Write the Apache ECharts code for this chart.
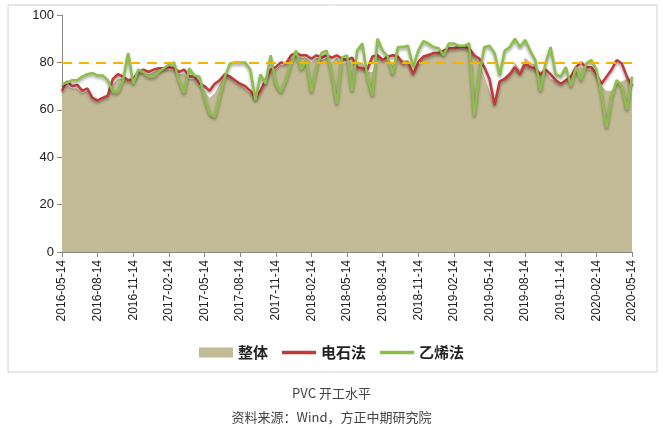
<!DOCTYPE html><html><head><meta charset="utf-8"><script src="https://cdn.jsdelivr.net/npm/echarts@6/dist/echarts.min.js"></script></head><body style="margin:0"><div id="c" style="width:663px;height:431px"></div><script>
const tickLabels=['2016-05-14','2016-08-14','2016-11-14','2017-02-14','2017-05-14','2017-08-14','2017-11-14','2018-02-14','2018-05-14','2018-08-14','2018-11-14','2019-02-14','2019-05-14','2019-08-14','2019-11-14','2020-02-14','2020-05-14'];
const red=[68,72,70,70.5,68,69,65,64,65,66,73,75,74,72.5,73,76,77,76,77,77.5,77.5,78,77.5,76,77,74,74,71,70,68,71,72.5,75,74,72.5,71,70,68,65,68,72.5,77,78,80,79.5,83,84,83,83,81.5,83,82,83,82,83,81.5,81,82,
78,77.5,77,82.5,83,81,82.5,83,82.5,79.5,80,75,80,82.5,83,84,84,85,86,86,86.5,86.5,86,83,81.5,78,73,62,72,73,75,78,75,79.5,78,77.5,75,77,75,72.5,71,72.5,74,78,80,78,78,75,71,74,77,81,79.5,74,70,72.5];
const green=[71,71.5,72.5,72.5,74,75,75.5,74.5,74.5,72.5,67.5,67.5,72.5,84,71,77,76,74,74,76,77.5,79,80,72.5,67,77.5,74.5,74,65.5,58.5,57,65.5,74,79.5,80,80,80,77,64,75,71,83,71,67.5,72.5,79.5,85,77,81,67.5,78,84,85,75.5,62.5,82,83,68,
85,88,74,66,90,85,82.5,75,86.5,86.5,87,78,85,89,88,86.5,86,83,88,88,87,87,88,57.5,75,86.5,87,84,74.5,85,86.5,90,86.5,89.5,85,81,68,79.5,86.5,75,74,78,70,78,72.5,79.5,81,77,67,52.5,65.5,72.5,70,60,74,77.5];
const overall=[67,70,69,69,67,68,65,64,65,66,71,73,73,72,72,75,76,75,76,77,77,77,77,75,75,73,73,70,68,65,67,71,74,74,72,71,69,67,64,67,71,76,77,79,79,82,83,82,82,80,82,81,82,80,82,79,80,80,
80,80,76,76,84,82,81,79,82,81,81,76,81,83,84,84,84,85,86,86,86,86,86,83,80,74,68,62,72,74,76,80,77,82,80,79,75,76,73,72,71,72,73,77,78,77,77,74,70,68,68,71,72,73,72,67,72];
const cats=[];for(let i=0;i<tickLabels.length;i++){for(let j=0;j<(i<tickLabels.length-1?7:1);j++)cats.push(j?tickLabels[i]+'_'+j:tickLabels[i]);}
const N=cats.length;const cut=a=>a.slice(0,N);
const ch=echarts.init(document.getElementById('c'));
const font='"Noto Sans CJK SC",sans-serif';
const lineIcon='path://M0,0 L30,0 L30,3 L0,3Z';
ch.setOption({animation:false,
grid:{left:62,right:31,top:15,bottom:179},
xAxis:{type:'category',data:cats,boundaryGap:false,axisLine:{lineStyle:{color:'#888'}},
 axisTick:{interval:6,length:5,lineStyle:{color:'#888'}},
 axisLabel:{interval:6,rotate:90,color:'#222',fontSize:12,fontFamily:'Arial',formatter:v=>v.indexOf('_')>=0?'':v}},
yAxis:{type:'value',min:0,max:100,interval:20,splitLine:{show:false},axisLine:{show:true,lineStyle:{color:'#888'}},axisTick:{show:true,length:5,lineStyle:{color:'#888'}},axisLabel:{color:'#222',fontSize:13,fontFamily:'Arial'}},
legend:{bottom:66,left:'center',itemGap:14,textStyle:{fontSize:15,fontWeight:'bold',fontFamily:font,color:'#222'},
 data:[{name:'整体',icon:'rect',itemStyle:{}},{name:'电石法',icon:lineIcon},{name:'乙烯法',icon:lineIcon}],itemWidth:34,itemHeight:10},
series:[
{name:'整体',type:'line',data:cut(overall),symbol:'none',lineStyle:{width:0},itemStyle:{color:'#c3ba96'},areaStyle:{color:'#c3ba96',opacity:1},
 markLine:{silent:true,symbol:'none',label:{show:false},lineStyle:{color:'#f5b400',type:[10,7],width:2},data:[{yAxis:80}]}},
{name:'电石法',type:'line',data:cut(red),symbol:'none',itemStyle:{color:'#c0393b'},lineStyle:{width:2.5,color:'#c0393b',shadowBlur:3,shadowColor:'rgba(0,0,0,0.4)',shadowOffsetY:2}},
{name:'乙烯法',type:'line',data:cut(green),symbol:'none',itemStyle:{color:'#8cbf4a'},lineStyle:{width:2.5,color:'#8cbf4a',shadowBlur:3,shadowColor:'rgba(0,0,0,0.4)',shadowOffsetY:2}}
],
graphic:[
{type:'rect',shape:{x:8,y:5,width:649,height:367},style:{fill:'none',stroke:'#d0d0d0',lineWidth:1},silent:true},
{type:'text',left:'center',top:387,style:{text:'PVC 开工水平',font:'13px "Noto Sans CJK SC"',fill:'#444'}},
{type:'text',left:'center',top:411,style:{text:'资料来源：Wind，方正中期研究院',font:'13px "Noto Sans CJK SC"',fill:'#444'}}
]});
</script></body></html>
